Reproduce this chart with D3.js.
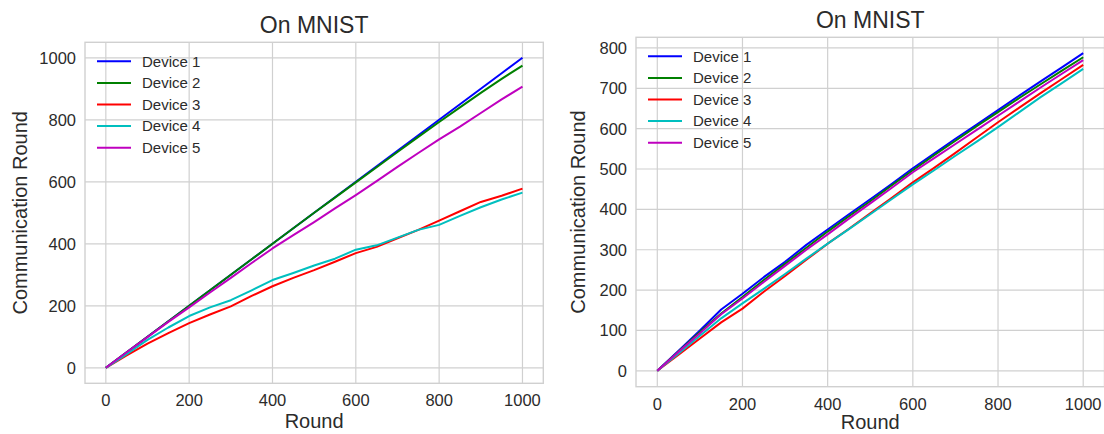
<!DOCTYPE html>
<html>
<head>
<meta charset="utf-8">
<script src="https://cdn.jsdelivr.net/npm/d3@7"></script>
<style>
  body { margin: 0; background: #fff; }
  svg text { font-family: "Liberation Sans", Arial, sans-serif; fill: #2b2b2b; }
</style>
</head>
<body>
<div id="chart"></div>
<script>
// rounds sampled every 50
var rounds = [0, 50, 100, 150, 200, 250, 300, 350, 400, 450, 500, 550, 600, 650, 700, 750, 800, 850, 900, 950, 1000];
var deviceNames = ["Device 1", "Device 2", "Device 3", "Device 4", "Device 5"];
var deviceColors = ["#0000ff", "#008000", "#ff0000", "#00bfbf", "#bf00bf"];

// left panel
var leftDev1 = [0, 50, 100, 150, 200, 250, 300, 350, 400, 450, 500, 550, 600, 650, 700, 750, 800, 850, 900, 950, 1000];
var leftDev2 = [0, 50, 100, 150, 200, 250, 300, 350, 400, 450, 500, 549, 598, 647, 696, 745, 793, 840, 887, 932, 975];
var leftDev3 = [0, 40, 78, 112, 144, 172, 198, 232, 263, 290, 315, 342, 370, 390, 418, 445, 475, 505, 535, 555, 578];
var leftDev4 = [0, 44, 90, 130, 167, 195, 218, 250, 283, 306, 330, 352, 381, 395, 420, 445, 461, 490, 518, 543, 565];
var leftDev5 = [0, 50, 99, 148, 195, 243, 290, 338, 385, 428, 470, 514, 557, 602, 648, 693, 737, 778, 822, 866, 907];

// right panel
var rightDev1 = [0, 50, 100, 152, 191, 232, 270, 312, 350, 388, 425, 463, 502, 538, 575, 610, 646, 682, 717, 752, 787];
var rightDev2 = [0, 48, 96, 142, 183, 225, 265, 305, 345, 383, 420, 459, 497, 534, 570, 606, 641, 676, 710, 744, 777];
var rightDev3 = [0, 40, 80, 120, 154, 196, 235, 275, 315, 352, 390, 428, 467, 503, 540, 578, 616, 652, 688, 723, 758];
var rightDev4 = [0, 43, 87, 130, 167, 203, 240, 278, 315, 351, 388, 425, 462, 497, 533, 568, 604, 641, 678, 713, 748];
var rightDev5 = [0, 47, 93, 140, 179, 220, 260, 300, 338, 377, 415, 453, 492, 527, 562, 597, 632, 667, 702, 736, 770];

var xTicks = [0, 200, 400, 600, 800, 1000];
var leftYTicks = [0, 200, 400, 600, 800, 1000];
var rightYTicks = [0, 100, 200, 300, 400, 500, 600, 700, 800];

var svg = d3.select("#chart").append("svg")
    .attr("width", 1104)
    .attr("height", 434);

function drawPanel(cfg) {
    var x = d3.scaleLinear().domain(cfg.xDomain).range([cfg.left, cfg.right]);
    var y = d3.scaleLinear().domain(cfg.yDomain).range([cfg.bottom, cfg.top]);
    var g = svg.append("g");

    // grid
    g.selectAll(".vgrid").data(xTicks).enter().append("line")
        .attr("x1", function(d) { return x(d); })
        .attr("x2", function(d) { return x(d); })
        .attr("y1", cfg.top).attr("y2", cfg.bottom)
        .style("stroke", "#d0d0d0").style("stroke-width", 1.2);
    g.selectAll(".hgrid").data(cfg.yTicks).enter().append("line")
        .attr("y1", function(d) { return y(d); })
        .attr("y2", function(d) { return y(d); })
        .attr("x1", cfg.left).attr("x2", cfg.right)
        .style("stroke", "#d0d0d0").style("stroke-width", 1.2);

    // frame
    g.append("rect")
        .attr("x", cfg.left).attr("y", cfg.top)
        .attr("width", cfg.right - cfg.left).attr("height", cfg.bottom - cfg.top)
        .style("fill", "none").style("stroke", "#d0d0d0").style("stroke-width", 1.4);

    // tick labels
    g.selectAll(".xt").data(xTicks).enter().append("text")
        .attr("x", function(d) { return x(d); })
        .attr("y", cfg.bottom + 23)
        .attr("text-anchor", "middle")
        .style("font-size", "16.5px")
        .text(function(d) { return d; });
    g.selectAll(".yt").data(cfg.yTicks).enter().append("text")
        .attr("x", cfg.left - 9)
        .attr("y", function(d) { return y(d); })
        .attr("dy", "0.36em")
        .attr("text-anchor", "end")
        .style("font-size", "16.5px")
        .text(function(d) { return d; });

    // lines
    var line = d3.line()
        .x(function(d) { return x(d[0]); })
        .y(function(d) { return y(d[1]); });
    cfg.series.forEach(function(s, i) {
        g.append("path")
            .datum(rounds.map(function(r, j) { return [r, s[j]]; }))
            .attr("d", line)
            .style("fill", "none")
            .style("stroke", deviceColors[i])
            .style("stroke-width", 2)
            .style("stroke-linejoin", "round");
    });

    // legend
    var lg = g.append("g").attr("transform", "translate(" + (cfg.left + 12) + "," + (cfg.top + 19) + ")");
    deviceNames.forEach(function(name, i) {
        lg.append("line")
            .attr("x1", 0).attr("x2", 34)
            .attr("y1", i * 21.6).attr("y2", i * 21.6)
            .style("stroke", deviceColors[i]).style("stroke-width", 2);
        lg.append("text")
            .attr("x", 45).attr("y", i * 21.6)
            .attr("dy", "0.36em")
            .style("font-size", "15px")
            .text(name);
    });

    // title and axis labels
    g.append("text")
        .attr("x", (cfg.left + cfg.right) / 2).attr("y", cfg.top - 9)
        .attr("text-anchor", "middle")
        .style("font-size", "23px")
        .text("On MNIST");
    g.append("text")
        .attr("x", (cfg.left + cfg.right) / 2).attr("y", Math.min(cfg.bottom + 45, 429))
        .attr("text-anchor", "middle")
        .style("font-size", "20px")
        .text("Round");
    g.append("text")
        .attr("transform", "translate(" + cfg.yLabelX + "," + ((cfg.top + cfg.bottom) / 2) + ") rotate(-90)")
        .attr("text-anchor", "middle")
        .attr("dy", "0.36em")
        .style("font-size", "20px")
        .text("Communication Round");
}

drawPanel({
    left: 85, right: 543.3, top: 42.3, bottom: 383.3,
    xDomain: [-50, 1050], yDomain: [-50, 1050],
    yTicks: leftYTicks, yLabelX: 20,
    series: [leftDev1, leftDev2, leftDev3, leftDev4, leftDev5]
});

drawPanel({
    left: 636, right: 1104.5, top: 37.3, bottom: 386.7,
    xDomain: [-50, 1050], yDomain: [-39.4, 826.4],
    yTicks: rightYTicks, yLabelX: 578,
    series: [rightDev1, rightDev2, rightDev3, rightDev4, rightDev5]
});
</script>
</body>
</html>
